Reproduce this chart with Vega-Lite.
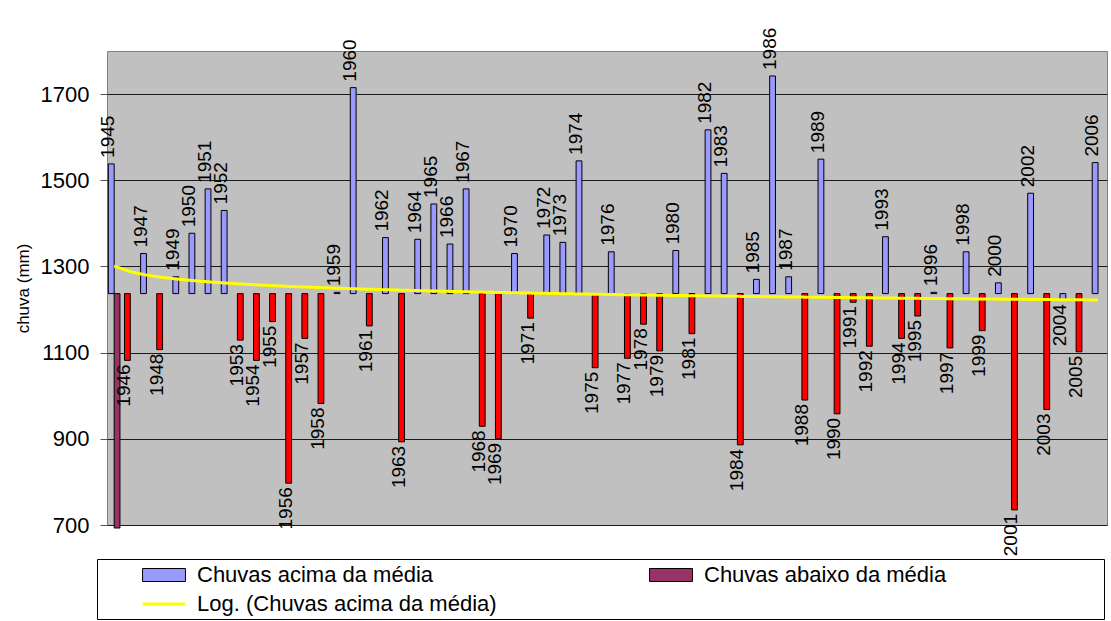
{
  "$schema": "https://vega.github.io/schema/vega-lite/v6.json",
  "width": 1000,
  "height": 474,
  "autosize": {"type": "none"},
  "padding": {"left": 107, "top": 51, "right": 4, "bottom": 96},
  "background": "#FFFFFF",
  "config": {
    "view": {"fill": "#C0C0C0", "stroke": "#808080", "strokeWidth": 1},
    "font": "Liberation Sans"
  },
  "datasets": {
    "chuvas": [
      {"ano": "1945", "chuva": 1538, "serie": "Chuvas acima da média", "slot": "a"},
      {"ano": "1945", "chuva": 693, "serie": "Chuvas abaixo da média", "slot": "b"},
      {"ano": "1946", "chuva": 1082, "serie": "abaixo (destaque)", "slot": "a"},
      {"ano": "1947", "chuva": 1330, "serie": "Chuvas acima da média", "slot": "a"},
      {"ano": "1948", "chuva": 1107, "serie": "abaixo (destaque)", "slot": "a"},
      {"ano": "1949", "chuva": 1276, "serie": "Chuvas acima da média", "slot": "a"},
      {"ano": "1950", "chuva": 1377, "serie": "Chuvas acima da média", "slot": "a"},
      {"ano": "1951", "chuva": 1480, "serie": "Chuvas acima da média", "slot": "a"},
      {"ano": "1952", "chuva": 1430, "serie": "Chuvas acima da média", "slot": "a"},
      {"ano": "1953", "chuva": 1129, "serie": "abaixo (destaque)", "slot": "a"},
      {"ano": "1954", "chuva": 1082, "serie": "abaixo (destaque)", "slot": "a"},
      {"ano": "1955", "chuva": 1172, "serie": "abaixo (destaque)", "slot": "a"},
      {"ano": "1956", "chuva": 797, "serie": "abaixo (destaque)", "slot": "a"},
      {"ano": "1957", "chuva": 1133, "serie": "abaixo (destaque)", "slot": "a"},
      {"ano": "1958", "chuva": 982, "serie": "abaixo (destaque)", "slot": "a"},
      {"ano": "1959", "chuva": 1240, "serie": "Chuvas acima da média", "slot": "a"},
      {"ano": "1960", "chuva": 1715, "serie": "Chuvas acima da média", "slot": "a"},
      {"ano": "1961", "chuva": 1162, "serie": "abaixo (destaque)", "slot": "a"},
      {"ano": "1962", "chuva": 1367, "serie": "Chuvas acima da média", "slot": "a"},
      {"ano": "1963", "chuva": 893, "serie": "abaixo (destaque)", "slot": "a"},
      {"ano": "1964", "chuva": 1363, "serie": "Chuvas acima da média", "slot": "a"},
      {"ano": "1965", "chuva": 1445, "serie": "Chuvas acima da média", "slot": "a"},
      {"ano": "1966", "chuva": 1352, "serie": "Chuvas acima da média", "slot": "a"},
      {"ano": "1967", "chuva": 1480, "serie": "Chuvas acima da média", "slot": "a"},
      {"ano": "1968", "chuva": 929, "serie": "abaixo (destaque)", "slot": "a"},
      {"ano": "1969", "chuva": 900, "serie": "abaixo (destaque)", "slot": "a"},
      {"ano": "1970", "chuva": 1330, "serie": "Chuvas acima da média", "slot": "a"},
      {"ano": "1971", "chuva": 1180, "serie": "abaixo (destaque)", "slot": "a"},
      {"ano": "1972", "chuva": 1373, "serie": "Chuvas acima da média", "slot": "a"},
      {"ano": "1973", "chuva": 1356, "serie": "Chuvas acima da média", "slot": "a"},
      {"ano": "1974", "chuva": 1545, "serie": "Chuvas acima da média", "slot": "a"},
      {"ano": "1975", "chuva": 1065, "serie": "abaixo (destaque)", "slot": "a"},
      {"ano": "1976", "chuva": 1334, "serie": "Chuvas acima da média", "slot": "a"},
      {"ano": "1977", "chuva": 1087, "serie": "abaixo (destaque)", "slot": "a"},
      {"ano": "1978", "chuva": 1166, "serie": "abaixo (destaque)", "slot": "a"},
      {"ano": "1979", "chuva": 1104, "serie": "abaixo (destaque)", "slot": "a"},
      {"ano": "1980", "chuva": 1337, "serie": "Chuvas acima da média", "slot": "a"},
      {"ano": "1981", "chuva": 1144, "serie": "abaixo (destaque)", "slot": "a"},
      {"ano": "1982", "chuva": 1617, "serie": "Chuvas acima da média", "slot": "a"},
      {"ano": "1983", "chuva": 1516, "serie": "Chuvas acima da média", "slot": "a"},
      {"ano": "1984", "chuva": 886, "serie": "abaixo (destaque)", "slot": "a"},
      {"ano": "1985", "chuva": 1270, "serie": "Chuvas acima da média", "slot": "a"},
      {"ano": "1986", "chuva": 1742, "serie": "Chuvas acima da média", "slot": "a"},
      {"ano": "1987", "chuva": 1276, "serie": "Chuvas acima da média", "slot": "a"},
      {"ano": "1988", "chuva": 990, "serie": "abaixo (destaque)", "slot": "a"},
      {"ano": "1989", "chuva": 1549, "serie": "Chuvas acima da média", "slot": "a"},
      {"ano": "1990", "chuva": 958, "serie": "abaixo (destaque)", "slot": "a"},
      {"ano": "1991", "chuva": 1217, "serie": "abaixo (destaque)", "slot": "a"},
      {"ano": "1992", "chuva": 1115, "serie": "abaixo (destaque)", "slot": "a"},
      {"ano": "1993", "chuva": 1369, "serie": "Chuvas acima da média", "slot": "a"},
      {"ano": "1994", "chuva": 1133, "serie": "abaixo (destaque)", "slot": "a"},
      {"ano": "1995", "chuva": 1185, "serie": "abaixo (destaque)", "slot": "a"},
      {"ano": "1996", "chuva": 1240, "serie": "Chuvas acima da média", "slot": "a"},
      {"ano": "1997", "chuva": 1111, "serie": "abaixo (destaque)", "slot": "a"},
      {"ano": "1998", "chuva": 1334, "serie": "Chuvas acima da média", "slot": "a"},
      {"ano": "1999", "chuva": 1151, "serie": "abaixo (destaque)", "slot": "a"},
      {"ano": "2000", "chuva": 1262, "serie": "Chuvas acima da média", "slot": "a"},
      {"ano": "2001", "chuva": 735, "serie": "abaixo (destaque)", "slot": "a"},
      {"ano": "2002", "chuva": 1470, "serie": "Chuvas acima da média", "slot": "a"},
      {"ano": "2003", "chuva": 968, "serie": "abaixo (destaque)", "slot": "a"},
      {"ano": "2004", "chuva": 1222, "serie": "Chuvas acima da média", "slot": "a"},
      {"ano": "2005", "chuva": 1102, "serie": "abaixo (destaque)", "slot": "a"},
      {"ano": "2006", "chuva": 1541, "serie": "Chuvas acima da média", "slot": "a"}
    ],
    "tendencia": [
      {"ano": "1945", "chuva": 1301.0}, {"ano": "1946", "chuva": 1287.8}, {"ano": "1947", "chuva": 1280.0},
      {"ano": "1948", "chuva": 1274.5}, {"ano": "1949", "chuva": 1270.3}, {"ano": "1950", "chuva": 1266.8},
      {"ano": "1951", "chuva": 1263.8}, {"ano": "1952", "chuva": 1261.3}, {"ano": "1953", "chuva": 1259.0},
      {"ano": "1954", "chuva": 1257.0}, {"ano": "1955", "chuva": 1255.2}, {"ano": "1956", "chuva": 1253.5},
      {"ano": "1957", "chuva": 1252.0}, {"ano": "1958", "chuva": 1250.6}, {"ano": "1959", "chuva": 1249.3},
      {"ano": "1960", "chuva": 1248.0}, {"ano": "1961", "chuva": 1246.9}, {"ano": "1962", "chuva": 1245.8},
      {"ano": "1963", "chuva": 1244.8}, {"ano": "1964", "chuva": 1243.8}, {"ano": "1965", "chuva": 1242.8},
      {"ano": "1966", "chuva": 1242.0}, {"ano": "1967", "chuva": 1241.1}, {"ano": "1968", "chuva": 1240.3},
      {"ano": "1969", "chuva": 1239.5}, {"ano": "1970", "chuva": 1238.8}, {"ano": "1971", "chuva": 1238.0},
      {"ano": "1972", "chuva": 1237.4}, {"ano": "1973", "chuva": 1236.7}, {"ano": "1974", "chuva": 1236.0},
      {"ano": "1975", "chuva": 1235.4}, {"ano": "1976", "chuva": 1234.8}, {"ano": "1977", "chuva": 1234.2},
      {"ano": "1978", "chuva": 1233.7}, {"ano": "1979", "chuva": 1233.1}, {"ano": "1980", "chuva": 1232.5},
      {"ano": "1981", "chuva": 1232.0}, {"ano": "1982", "chuva": 1231.5}, {"ano": "1983", "chuva": 1231.0},
      {"ano": "1984", "chuva": 1230.5}, {"ano": "1985", "chuva": 1230.1}, {"ano": "1986", "chuva": 1229.6},
      {"ano": "1987", "chuva": 1229.2}, {"ano": "1988", "chuva": 1228.7}, {"ano": "1989", "chuva": 1228.3},
      {"ano": "1990", "chuva": 1227.9}, {"ano": "1991", "chuva": 1227.5}, {"ano": "1992", "chuva": 1227.1},
      {"ano": "1993", "chuva": 1226.7}, {"ano": "1994", "chuva": 1226.3}, {"ano": "1995", "chuva": 1225.9},
      {"ano": "1996", "chuva": 1225.5}, {"ano": "1997", "chuva": 1225.2}, {"ano": "1998", "chuva": 1224.8},
      {"ano": "1999", "chuva": 1224.5}, {"ano": "2000", "chuva": 1224.1}, {"ano": "2001", "chuva": 1223.8},
      {"ano": "2002", "chuva": 1223.5}, {"ano": "2003", "chuva": 1223.1}, {"ano": "2004", "chuva": 1222.8},
      {"ano": "2005", "chuva": 1222.5}, {"ano": "2006", "chuva": 1222.2}
    ]
  },
  "data": {"name": "chuvas"},
  "encoding": {
    "x": {
      "field": "ano",
      "type": "ordinal",
      "axis": null,
      "scale": {"paddingInner": 0.28, "paddingOuter": 0.14, "align": 0.3}
    },
    "y": {
      "field": "chuva",
      "type": "quantitative",
      "scale": {"domain": [700, 1800], "nice": false, "zero": false},
      "axis": {
        "title": "chuva (mm)",
        "values": [700, 900, 1100, 1300, 1500, 1700],
        "format": "d",
        "domain": false,
        "grid": true,
        "gridColor": "#1A1A1A",
        "gridWidth": 1,
        "gridOpacity": 1,
        "ticks": true,
        "tickSize": 7,
        "tickColor": "#555555",
        "labelFont": "Liberation Sans",
        "labelFontSize": 22,
        "labelColor": "#000000",
        "labelPadding": 11,
        "titleFont": "Liberation Sans",
        "titleFontSize": 17,
        "titleFontWeight": "normal",
        "titleColor": "#000000",
        "titlePadding": 8
      }
    }
  },
  "layer": [
    {
      "mark": {"type": "bar", "stroke": "#000000", "strokeWidth": 1},
      "encoding": {
        "xOffset": {"field": "slot", "type": "nominal", "scale": {"domain": ["a", "b"], "paddingInner": 0, "paddingOuter": 0}},
        "y2": {"datum": 1237},
        "color": {
          "field": "serie",
          "type": "nominal",
          "scale": {
            "domain": ["Chuvas acima da média", "Chuvas abaixo da média", "abaixo (destaque)"],
            "range": ["#9999FF", "#993366", "#FF0000"]
          },
          "legend": {
            "orient": "none",
            "direction": "horizontal",
            "legendX": -10,
            "legendY": 508,
            "columns": 2,
            "title": "\u200b",
            "titleOrient": "bottom",
            "titleFontSize": 22,
            "titlePadding": 7,
            "values": ["Chuvas acima da média", "Chuvas abaixo da média"],
            "labelExpr": "datum.label == 'Chuvas abaixo da média' ? datum.label + '\u00a0\u00a0\u00a0\u00a0\u00a0\u00a0\u00a0\u00a0\u00a0\u00a0\u00a0\u00a0\u00a0\u00a0\u00a0\u00a0\u00a0\u00a0\u00a0\u00a0\u00a0\u00a0\u00a0\u00a0\u00a0\u200b' : datum.label",
            "labelFont": "Liberation Sans",
            "labelFontSize": 22,
            "labelColor": "#000000",
            "labelLimit": 1000,
            "symbolSize": 169,
            "symbolType": "M-3.3,-1H3.3V1H-3.3Z",
            "symbolStrokeColor": "#000000",
            "symbolStrokeWidth": 1,
            "symbolOffset": 51,
            "labelOffset": 22,
            "padding": 5,
            "rowPadding": 7,
            "columnPadding": 175,
            "strokeColor": "#000000"
          }
        }
      }
    },
    {
      "data": {"name": "tendencia"},
      "mark": {"type": "line", "strokeWidth": 3, "color": "#FFFF00"},
      "encoding": {
        "strokeDash": {
          "datum": "Log. (Chuvas acima da média)",
          "type": "nominal",
          "scale": {"range": [[1, 0]]},
          "legend": {
            "orient": "none",
            "legendX": 46,
            "legendY": 542,
            "title": null,
            "padding": 0,
            "symbolType": "M-3.3,0H3.3",
            "symbolSize": 169,
            "symbolStrokeWidth": 3,
            "symbolStrokeColor": "#FFFF00",
            "symbolOffset": 0,
            "labelOffset": 22,
            "labelFont": "Liberation Sans",
            "labelFontSize": 22,
            "labelColor": "#000000",
            "labelLimit": 1000
          }
        }
      }
    },
    {
      "transform": [{"filter": "datum.slot == 'a' && datum.chuva >= 1237"}],
      "mark": {"type": "text", "angle": 270, "align": "left", "baseline": "middle", "dx": 6, "dy": -3, "font": "Liberation Sans", "fontSize": 19, "color": "#000000"},
      "encoding": {
        "xOffset": {"field": "slot", "type": "nominal", "scale": {"domain": ["a", "b"], "paddingInner": 0, "paddingOuter": 0}},
        "text": {"field": "ano"}
      }
    },
    {
      "transform": [{"filter": "datum.slot == 'a' && datum.chuva < 1237"}],
      "mark": {"type": "text", "angle": 270, "align": "right", "baseline": "middle", "dx": -4, "dy": -3, "font": "Liberation Sans", "fontSize": 19, "color": "#000000"},
      "encoding": {
        "xOffset": {"field": "slot", "type": "nominal", "scale": {"domain": ["a", "b"], "paddingInner": 0, "paddingOuter": 0}},
        "text": {"field": "ano"}
      }
    }
  ]
}
